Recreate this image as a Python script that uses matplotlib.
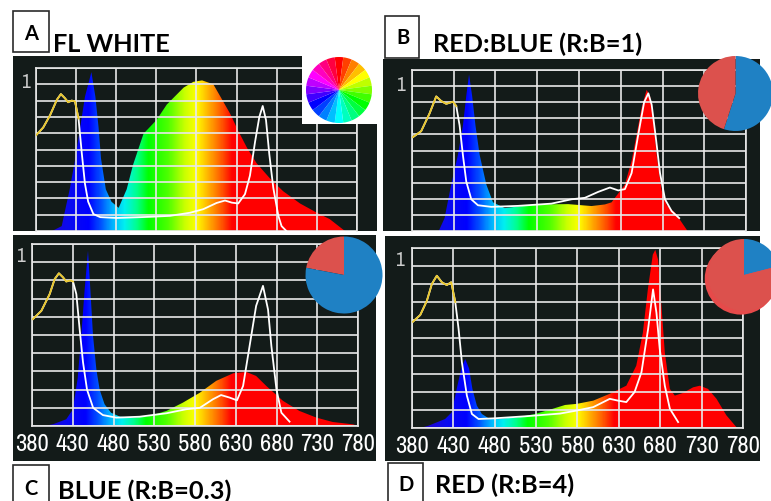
import numpy as np
import matplotlib
matplotlib.use("Agg")
import matplotlib.pyplot as plt
from matplotlib import font_manager as fm
from matplotlib.colors import LinearSegmentedColormap, hsv_to_rgb
from matplotlib.patches import Polygon, Rectangle, Circle

W, H = 771, 502

# ---- data ----
ticks_nm = [380, 430, 480, 530, 580, 630, 680, 730, 780]
tick_labels = ["380", "430", "480", "530", "580", "630", "680", "730", "780"]
grid_y = [0.0, 0.1, 0.2, 0.3, 0.4, 0.5, 0.6, 0.7, 0.8, 0.9, 1.0]

letters = ["A", "B", "C", "D"]
titles = ["FL WHITE", "RED:BLUE (R:B=1)", "BLUE (R:B=0.3)", "RED (R:B=4)"]

# panel A - fluorescent white
a_fill_wl = [400, 412, 422, 429, 435, 441, 449, 454, 458, 461, 467, 474, 483, 493, 501, 514,
             530, 543, 564, 576, 587, 601, 611, 622, 632, 643, 655, 672, 688, 709, 730, 746, 765]
a_fill_val = [0.0, 0.03, 0.256, 0.445, 0.634, 0.824, 0.975, 0.824, 0.634, 0.445, 0.256, 0.18, 0.142,
              0.256, 0.407, 0.597, 0.68, 0.776, 0.88, 0.915, 0.924, 0.9, 0.814, 0.719, 0.614, 0.51,
              0.415, 0.32, 0.244, 0.169, 0.112, 0.073, 0.0]
a_line_wl = [380, 389, 397.5, 406, 411, 416, 420, 424.5, 428.6, 433, 437, 441, 445, 451.5, 460, 481,
             522, 547, 572, 588.5, 605, 615.5, 624, 632, 640.4, 646.6, 653, 658.3, 662.5, 666.6,
             670.7, 675.7, 682, 686, 692]
a_line_val = [0.587, 0.635, 0.71, 0.805, 0.84, 0.815, 0.79, 0.80, 0.795, 0.69, 0.48, 0.29, 0.18,
              0.104, 0.085, 0.08, 0.087, 0.093, 0.112, 0.134, 0.172, 0.187, 0.174, 0.169, 0.226,
              0.34, 0.548, 0.70, 0.767, 0.681, 0.472, 0.264, 0.093, 0.03, 0.0]

# panel B - red:blue 1
b_fill_wl = [412, 419, 427, 435, 441, 445, 448.3, 452, 456, 461, 469, 477, 491, 527, 567, 595, 611,
             619, 627, 635, 643, 649, 655, 661, 665, 669, 673, 679, 685, 695, 710]
b_fill_val = [0.0, 0.08, 0.289, 0.473, 0.656, 0.84, 0.972, 0.84, 0.656, 0.473, 0.289, 0.178, 0.142,
              0.165, 0.167, 0.155, 0.165, 0.178, 0.233, 0.289, 0.436, 0.60, 0.766, 0.877, 0.84,
              0.693, 0.473, 0.252, 0.16, 0.114, 0.0]
b_line_wl = [381, 391, 401, 409, 415, 421, 429, 433, 437, 441, 445, 451, 459, 475, 507, 547, 571,
             587, 603, 617, 627, 635, 643, 651, 658, 663, 667, 672, 677, 683, 691, 700]
b_line_val = [0.583, 0.62, 0.73, 0.836, 0.807, 0.79, 0.803, 0.776, 0.656, 0.47, 0.307, 0.197, 0.16,
              0.15, 0.156, 0.17, 0.197, 0.206, 0.243, 0.27, 0.252, 0.26, 0.36, 0.60, 0.80, 0.855,
              0.785, 0.58, 0.36, 0.197, 0.123, 0.08]

# panel C - blue 0.3
c_fill_wl = [395, 406, 422, 430, 436, 440.5, 444.6, 448.7, 451.6, 454.8, 459, 463, 469, 477, 488,
             504, 524, 545, 565, 586, 606, 627, 643, 655, 667.5, 688, 708, 729, 749, 774, 780]
c_fill_val = [0.0, 0.01, 0.037, 0.09, 0.26, 0.5, 0.75, 0.963, 0.75, 0.5, 0.31, 0.2, 0.12, 0.073,
              0.051, 0.046, 0.055, 0.083, 0.128, 0.183, 0.248, 0.29, 0.297, 0.275, 0.22, 0.138,
              0.083, 0.046, 0.022, 0.009, 0.0]
c_line_wl = [381, 391.5, 401.7, 407.8, 413, 418, 422, 427, 430.3, 434.4, 438.5, 442.6, 447.5, 455,
             467, 483.5, 512, 545, 569, 586, 602, 612, 622.5, 631.5, 639, 647, 655, 663.4, 669.6,
             673.7, 680, 686, 696]
c_line_val = [0.587, 0.633, 0.725, 0.807, 0.839, 0.817, 0.794, 0.80, 0.794, 0.725, 0.53, 0.35, 0.2,
              0.10, 0.06, 0.046, 0.051, 0.07, 0.092, 0.10, 0.147, 0.17, 0.156, 0.141, 0.22, 0.44,
              0.66, 0.77, 0.64, 0.44, 0.2, 0.073, 0.024]

# panel D - red 4
d_fill_wl = [390, 400, 420, 428, 434, 439.5, 444.3, 449, 453, 458.4, 464.4, 472.5, 480.5, 508.6,
             528.7, 548.8, 565, 579, 599, 619, 639, 651, 659, 665, 671, 674, 677.4, 681.5, 685.5,
             691.6, 697.6, 707.6, 719.7, 727.8, 737.8, 748, 760, 772, 776]
d_fill_val = [0.0, 0.013, 0.05, 0.087, 0.217, 0.33, 0.383, 0.33, 0.217, 0.124, 0.078, 0.054, 0.05,
              0.06, 0.078, 0.105, 0.128, 0.134, 0.152, 0.19, 0.235, 0.346, 0.53, 0.77, 0.963, 0.99,
              0.935, 0.677, 0.42, 0.217, 0.18, 0.195, 0.226, 0.235, 0.217, 0.162, 0.07, 0.005, 0.0]
d_line_wl = [381, 390, 398, 404, 410, 416, 422, 427.4, 432.3, 436.3, 440.3, 446.3, 452.4, 460.4,
             480.5, 516.7, 558.7, 579, 599, 619, 629, 639, 649, 657.3, 665.3, 671.3, 675.4, 679.4,
             685.5, 691.6, 701.6]
d_line_val = [0.59, 0.628, 0.707, 0.80, 0.846, 0.81, 0.794, 0.81, 0.70, 0.55, 0.365, 0.18, 0.078,
              0.05, 0.054, 0.065, 0.08, 0.097, 0.116, 0.162, 0.152, 0.144, 0.2, 0.31, 0.549, 0.77,
              0.64, 0.438, 0.235, 0.107, 0.033]

# pie shares
pie_b = [55, 45]   # blue, red
pie_c = [22, 78]   # red, blue
pie_d = [21, 79]   # blue, red

wheel_hues = [0, 15, 30, 45, 60, 75, 90, 105, 120, 135, 150, 165, 180, 195, 210, 225, 240, 255,
              270, 285, 300, 315, 330, 345]

# ---- style ----
BG = '#131b19'
GRID = '#e8e8e8'
YELLOW = '#e9c62a'
RED = '#dc514d'
BLUE = '#1f81c4'
TITLE_FONT = ['Lato', 'DejaVu Sans']

# a narrow face for the axis numbers, if one is installed
narrow_fp = None
for f in sorted(fm.fontManager.ttflist, key=lambda f: f.name):
    nm = f.name.lower()
    st = str(f.stretch).lower()
    if ('narrow' in nm or 'condensed' in nm or 'condensed' in st) and f.style == 'normal' \
            and str(f.weight) in ('400', 'normal', 'regular'):
        narrow_fp = fm.FontProperties(fname=f.fname)
        break
if narrow_fp is None:
    narrow_fp = fm.FontProperties(family='DejaVu Sans')

spec_stops = [(380, '#3000b8'), (420, '#0a0af0'), (445, '#0000ff'), (460, '#0050ff'),
              (475, '#00b4ff'), (490, '#00f0f0'), (505, '#00ff90'), (520, '#00ff00'),
              (545, '#50ff00'), (565, '#c8ff00'), (580, '#ffff00'), (595, '#ffb000'),
              (610, '#ff6000'), (625, '#ff0000'), (780, '#ff0000')]
spec_cmap = LinearSegmentedColormap.from_list(
    'spec', [((w - 380) / 400, c) for w, c in spec_stops])
grad = np.linspace(0, 1, 800)[None, :]

fig = plt.figure(figsize=(W / 100, H / 100), dpi=100)
fig.patch.set_facecolor('white')

# size the numbers so "380" is about 34 px wide
rend = fig.canvas.get_renderer()
probe = fig.text(0, 0, "380", fontproperties=narrow_fp, fontsize=20)
pw = probe.get_window_extent(rend).width
probe.remove()
num_size = min(20 * 34 / pw, 18)


def px_axes(x0, y0, x1, y1, z):
    ax = fig.add_axes([x0 / W, 1 - y1 / H, (x1 - x0) / W, (y1 - y0) / H])
    ax.set_zorder(z)
    return ax


def panel(outer_box, inner_box, ybot, fwl, fval, lwl, lval, labels, z):
    outer = px_axes(*outer_box, z)
    outer.set_facecolor(BG)
    outer.set_xticks([])
    outer.set_yticks([])
    for s in outer.spines.values():
        s.set_visible(False)

    ax = px_axes(*inner_box, z + 0.5)
    ax.patch.set_alpha(0)
    ax.set_xlim(380, 780)
    ax.set_ylim(ybot, 1.0)
    im = ax.imshow(grad, extent=(380, 780, 0, 1), origin='lower', aspect='auto',
                   cmap=spec_cmap, zorder=1)
    pts = [(fwl[0], 0)] + list(zip(fwl, fval)) + [(fwl[-1], 0)]
    poly = Polygon(pts, closed=True, fc='none', ec='none')
    ax.add_patch(poly)
    im.set_clip_path(poly)

    ax.plot(lwl, lval, color='white', lw=1.3, zorder=4)
    n = sum(1 for w in lwl if w <= 429)
    ax.plot(lwl[:n + 1], lval[:n + 1], color=YELLOW, lw=1.3, zorder=5)

    ax.set_axisbelow(False)
    ax.set_xticks(ticks_nm)
    ax.set_xticklabels(tick_labels)
    ax.set_yticks(grid_y)
    ax.grid(True, color=GRID, lw=1.2)
    for s in ax.spines.values():
        s.set_color(GRID)
        s.set_linewidth(1.2)
    if not labels:
        ax.spines['bottom'].set_visible(False)
    ax.tick_params(length=0, labelleft=False, labelbottom=labels,
                   labelcolor='white', pad=5)
    for t in ax.xaxis.get_major_ticks():
        t.label1.set_fontproperties(narrow_fp)
        t.label1.set_fontsize(num_size)
        t.label1.set_clip_box(outer.bbox)
        t.label1.set_clip_on(True)
    return ax


panel((13, 57, 377, 232), (36, 69, 357, 232), 0.072, a_fill_wl, a_fill_val,
      a_line_wl, a_line_val, False, 1)
panel((383, 60, 760, 232), (412, 71, 746, 232), 0.112, b_fill_wl, b_fill_val,
      b_line_wl, b_line_val, False, 1)
panel((13, 236, 376, 462), (32, 245, 358, 427), 0.0, c_fill_wl, c_fill_val,
      c_line_wl, c_line_val, True, 4)
panel((385, 237, 760, 462), (412, 249, 743, 429), 0.0, d_fill_wl, d_fill_val,
      d_line_wl, d_line_val, True, 4)

# "1" marks at the top of each y axis
for x, y in [(25, 82), (400, 86), (20, 257), (399, 260)]:
    fig.text(x / W, 1 - y / H, "1", color='#cfcfcf', fontproperties=narrow_fp,
             fontsize=14, ha='center', va='center', zorder=10)

# colour wheel in panel A
fig.add_artist(Rectangle((302 / W, 1 - 125 / H), 75 / W, 68 / H, transform=fig.transFigure,
                         fc='white', ec='none', zorder=2.8))
wax = px_axes(339 - 33, 91 - 33, 339 + 33, 91 + 33, 3)
wax.pie([1] * len(wheel_hues), colors=[hsv_to_rgb((h / 360, 1, 1)) for h in wheel_hues],
        startangle=90 + 7.5, counterclock=False, wedgeprops=dict(linewidth=0))
wax.set_xlim(-1, 1)
wax.set_ylim(-1, 1)
wax.axis('off')


def pie_axes(cx, cy, r, vals, cols, ccw, z, shadow=False):
    pax = px_axes(cx - r, cy - r, cx + r, cy + r, z)
    if shadow:
        pax.add_patch(Circle((-0.09, -0.1), 1.0, fc='#e64a4a', ec='none', clip_on=False, zorder=0))
    pax.pie(vals, colors=cols, startangle=90, counterclock=ccw, wedgeprops=dict(linewidth=0))
    pax.set_xlim(-1, 1)
    pax.set_ylim(-1, 1)
    pax.axis('off')


pie_axes(735.5, 94.5, 37.5, pie_b, [BLUE, RED], False, 3)
pie_axes(344, 276, 38.5, pie_c, [RED, BLUE], True, 6)
pie_axes(744, 276, 36, pie_d, [BLUE, RED], False, 6, shadow=True)

# letter boxes and titles
boxes = [(13, 12, 49, 53), (385, 17, 419, 59), (13, 466, 49, 515), (388, 464, 423, 515)]
letter_pos = [(31.5, 34), (402.5, 38.5), (31, 489.5), (405.5, 485.5)]
title_pos = [(53, 52.5), (433, 52), (58, 499), (435, 493)]
for (x0, y0, x1, y1), (lx, ly), (tx, ty), let, tit in zip(boxes, letter_pos, title_pos,
                                                         letters, titles):
    fig.add_artist(Rectangle((x0 / W, 1 - y1 / H), (x1 - x0) / W, (y1 - y0) / H,
                             transform=fig.transFigure, fill=False, ec='#2a2a2a', lw=1.2,
                             zorder=10))
    fig.text(lx / W, 1 - ly / H, let, family=TITLE_FONT, weight='bold', fontsize=14.5,
             ha='center', va='center', zorder=10)
    fig.text(tx / W, 1 - ty / H, tit, family=TITLE_FONT, weight='bold', fontsize=18.3,
             ha='left', va='baseline', zorder=10)

fig.savefig("out.png", dpi=100, facecolor='white')
